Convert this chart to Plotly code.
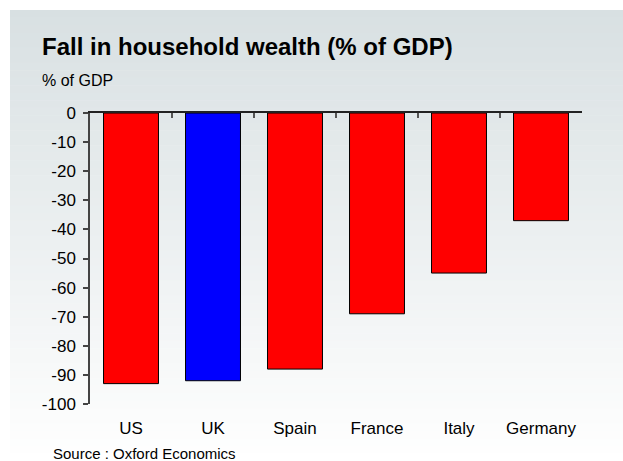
import plotly.graph_objects as go

# Chart data
countries = ["US", "UK", "Spain", "France", "Italy", "Germany"]
wealth_fall = [-93, -92, -88, -69, -55, -37]
bar_colors = ["#ff0000", "#0000ff", "#ff0000", "#ff0000", "#ff0000", "#ff0000"]
y_ticks = [0, -10, -20, -30, -40, -50, -60, -70, -80, -90, -100]

W, H = 623, 461
L, R, T, B = 90, 582, 113, 404  # plot area in pixels
FONT = "Liberation Sans, Arial, sans-serif"


def px_x(p):
    return (p - L) / (R - L)


def px_y(p):
    return (B - p) / (B - T)


positions = list(range(len(countries)))

fig = go.Figure()
fig.add_trace(go.Bar(
    x=positions,
    y=wealth_fall,
    width=0.67,
    marker=dict(color=bar_colors, line=dict(color="#000000", width=1)),
    showlegend=False,
    hoverinfo="x+y",
))
# carrier trace for the top (zero-line) axis
fig.add_trace(go.Scatter(x=[-0.5, 5.5], y=[0, 0], xaxis="x2", mode="lines",
                         line=dict(width=0), showlegend=False, hoverinfo="skip"))

# vertical gradient panel behind the chart
shapes = []
n = 60
top_px, bot_px, left_px = 10, H, 10
c0 = (216, 224, 226)
c1 = (255, 255, 255)
for i in range(n):
    y0 = top_px + (bot_px - top_px) * i / n
    y1 = top_px + (bot_px - top_px) * (i + 1) / n + 0.5
    t = (i + 0.5) / n
    col = tuple(round(a + (b - a) * t) for a, b in zip(c0, c1))
    shapes.append(dict(type="rect", xref="paper", yref="paper",
                       x0=px_x(left_px), x1=px_x(W + 2), y0=px_y(y1), y1=px_y(y0),
                       fillcolor="rgb(%d,%d,%d)" % col, line=dict(width=0), layer="below"))

annotations = [
    dict(text="<b>Fall in household wealth (% of GDP)</b>", xref="paper", yref="paper",
         x=px_x(40), y=px_y(47), xanchor="left", yanchor="middle", showarrow=False,
         font=dict(family=FONT, size=24, color="#000000")),
    dict(text="% of GDP", xref="paper", yref="paper",
         x=px_x(40), y=px_y(80.5), xanchor="left", yanchor="middle", showarrow=False,
         font=dict(family=FONT, size=16, color="#000000")),
    dict(text="Source : Oxford Economics", xref="paper", yref="paper",
         x=px_x(51), y=px_y(453.5), xanchor="left", yanchor="middle", showarrow=False,
         font=dict(family=FONT, size=15, color="#000000")),
]

fig.update_layout(
    width=W, height=H, autosize=False,
    margin=dict(l=L, r=W - R, t=T, b=H - B, pad=0),
    paper_bgcolor="#ffffff",
    plot_bgcolor="rgba(0,0,0,0)",
    bargap=0.33,
    shapes=shapes,
    annotations=annotations,
    xaxis=dict(
        range=[-0.5, 5.5], tickvals=positions, ticktext=countries,
        showline=False, ticks="", showgrid=False, zeroline=False,
        tickfont=dict(family=FONT, size=17, color="#000000"),
        ticklabelstandoff=12,
    ),
    xaxis2=dict(
        overlaying="x", side="top", range=[-0.5, 5.5],
        tickvals=[p - 0.5 for p in positions] + [5.5],
        ticks="inside", ticklen=5, tickcolor="#555555", tickwidth=1.5,
        showticklabels=False, showline=True, linecolor="#222222", linewidth=1.5,
        showgrid=False, zeroline=False,
    ),
    yaxis=dict(
        range=[-100, 0], tickvals=y_ticks, ticktext=[str(v) for v in y_ticks],
        showline=True, linecolor="#444444", linewidth=1.5,
        ticks="outside", ticklen=5, tickcolor="#444444", tickwidth=1.5,
        showgrid=False, zeroline=False,
        tickfont=dict(family=FONT, size=17, color="#000000"),
        ticklabelstandoff=4,
    ),
)

fig.write_html("out.html")
